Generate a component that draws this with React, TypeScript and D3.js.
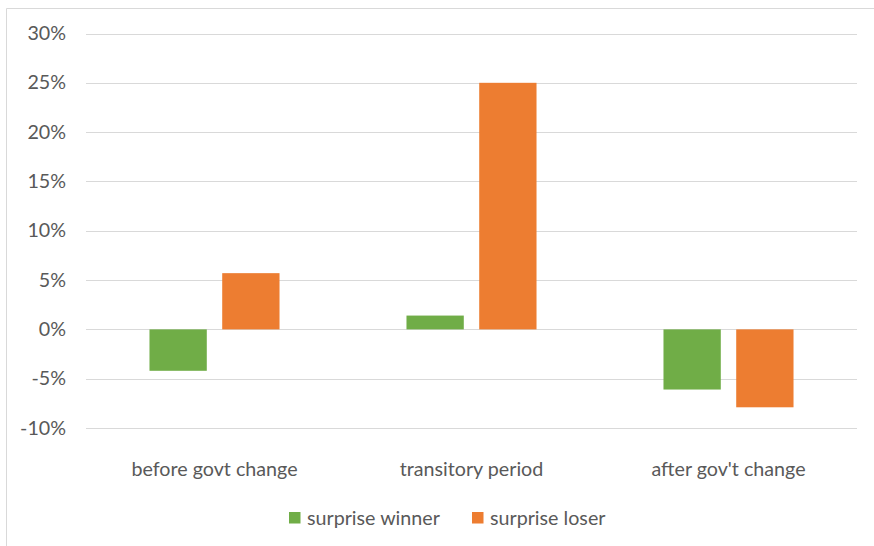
import * as d3 from 'd3';
import React, { useEffect, useRef } from 'react';

const categories = ['before govt change', 'transitory period', "after gov't change"];
const seriesNames = ['surprise winner', 'surprise loser'];
const winnerValues = [-0.042, 0.014, -0.061];
const loserValues = [0.057, 0.25, -0.079];
const yTicks = [-0.1, -0.05, 0, 0.05, 0.1, 0.15, 0.2, 0.25, 0.3];

const seriesColors = ['#70AD47', '#ED7D31'];
const textColor = '#595959';
const gridColor = '#D9D9D9';
const fontFamily = 'Lato, "Open Sans", sans-serif';
const fontSize = '19.7px';

const width = 874;
const height = 546;

const App: React.FC = () => {
    const ref = useRef<SVGSVGElement | null>(null);

    useEffect(() => {
        const svg = d3.select(ref.current);
        svg.selectAll('*').remove();

        const plot = { left: 86, right: 857, top: 33.5, bottom: 428 };

        // chart frame (left and top edges only are visible)
        svg.append('line')
            .attr('x1', 6.5).attr('x2', 6.5)
            .attr('y1', 8.5).attr('y2', height)
            .attr('stroke', gridColor).attr('stroke-width', 1);
        svg.append('line')
            .attr('x1', 6.5).attr('x2', width)
            .attr('y1', 8.5).attr('y2', 8.5)
            .attr('stroke', gridColor).attr('stroke-width', 1);

        const y = d3.scaleLinear().domain([-0.1, 0.3]).range([plot.bottom, plot.top]);
        const x0 = d3.scaleBand().domain(categories).range([plot.left, plot.right]);
        const bw = x0.bandwidth();
        const barW = bw * 0.223;
        const gap = bw * 0.06;
        const x1 = d3
            .scaleBand()
            .domain(seriesNames)
            .range([-(barW + gap / 2), barW + gap / 2])
            .paddingInner(gap / (barW + gap));

        // gridlines
        svg.append('g')
            .selectAll('line')
            .data(yTicks)
            .join('line')
            .attr('x1', plot.left)
            .attr('x2', plot.right)
            .attr('y1', (d) => Math.round(y(d)) + 0.5)
            .attr('y2', (d) => Math.round(y(d)) + 0.5)
            .attr('stroke', gridColor)
            .attr('stroke-width', 1);

        // y tick labels
        const fmt = d3.format('.0%');
        svg.append('g')
            .selectAll('text')
            .data(yTicks)
            .join('text')
            .attr('x', 66)
            .attr('y', (d) => y(d) + 6.5)
            .attr('text-anchor', 'end')
            .attr('fill', textColor)
            .style('font-family', fontFamily)
            .style('font-size', fontSize)
            .text((d) => fmt(d).replace('−', '-'));

        // bars
        const rows = categories.map((c, i) => ({
            category: c,
            values: [winnerValues[i], loserValues[i]],
        }));

        const groups = svg
            .append('g')
            .selectAll('g')
            .data(rows)
            .join('g')
            .attr('transform', (d) => `translate(${x0(d.category)! + bw / 2}, 0)`);

        groups
            .selectAll('rect')
            .data((d) => d.values.map((v, i) => ({ key: seriesNames[i], value: v, idx: i })))
            .join('rect')
            .attr('x', (d) => x1(d.key)!)
            .attr('width', x1.bandwidth())
            .attr('y', (d) => y(Math.max(0, d.value)))
            .attr('height', (d) => Math.abs(y(d.value) - y(0)))
            .attr('fill', (d) => seriesColors[d.idx]);

        // category labels
        svg.append('g')
            .selectAll('text')
            .data(categories)
            .join('text')
            .attr('x', (d) => x0(d)! + bw / 2)
            .attr('y', 476)
            .attr('text-anchor', 'middle')
            .attr('fill', textColor)
            .style('font-family', fontFamily)
            .style('font-size', fontSize)
            .text((d) => d);

        // legend
        const legendX = [289, 472];
        const legend = svg.append('g');
        seriesNames.forEach((name, i) => {
            const g = legend.append('g').attr('transform', `translate(${legendX[i]}, 512)`);
            g.append('rect')
                .attr('width', 11.5)
                .attr('height', 11.5)
                .attr('fill', seriesColors[i]);
            g.append('text')
                .attr('x', 18)
                .attr('y', 13)
                .attr('fill', textColor)
                .style('font-family', fontFamily)
                .style('font-size', fontSize)
                .text(name);
        });
    }, []);

    return (
        <svg
            ref={ref}
            width={width}
            height={height}
            style={{ position: 'absolute', left: 0, top: 0, background: '#fff' }}
        ></svg>
    );
};

export default App;
